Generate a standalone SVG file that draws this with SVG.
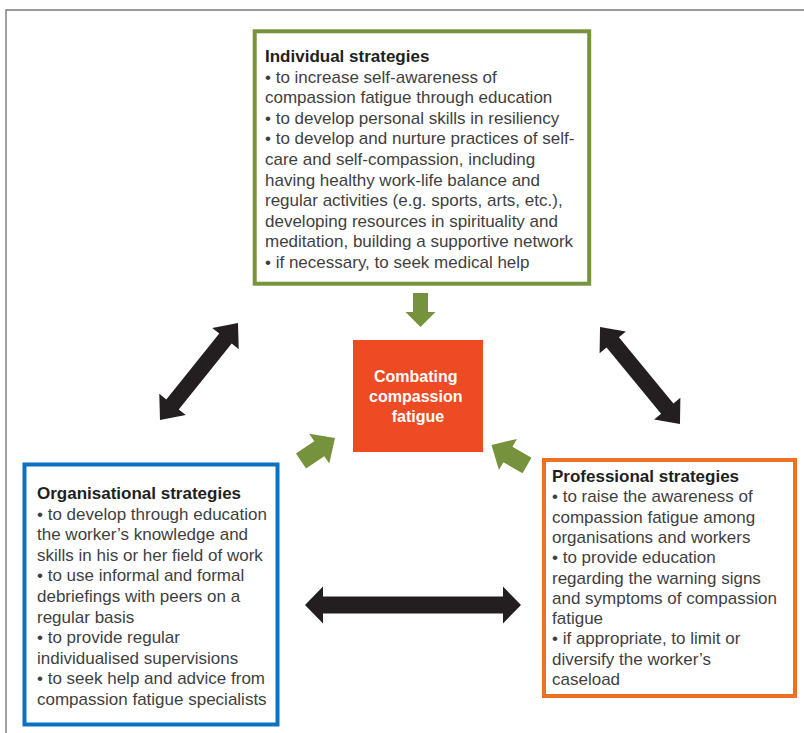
<svg xmlns="http://www.w3.org/2000/svg" width="804" height="733" viewBox="0 0 804 733">
  <style>
    .frame { fill: none; stroke: #7a7a7a; stroke-width: 1.4; }
    .box { fill: #ffffff; stroke-width: 4; }
    .green { stroke: #77933c; }
    .blue { stroke: #0a72c0; }
    .orange { stroke: #ec7123; }
    .core { fill: #ee4a23; }
    .txt { font-family: "Liberation Sans", Arial, sans-serif; font-size: 17px; fill: #3f3f3f; }
    .title { font-weight: bold; fill: #1f1f1f; }
    .core-txt { font-family: "Liberation Sans", Arial, sans-serif; font-size: 16px; font-weight: bold; fill: #ffffff; text-anchor: middle; }
    .dbl { fill: #231f20; }
    .feed { fill: #76923c; }
  </style>
  <defs>
    <!-- single block arrow pointing along +x, tail at the origin -->
    <polygon id="feed-arrow" points="0,-9 22,-9 22,-18 41,0 22,18 22,9 0,9"/>
  </defs>

  <!-- outer frame (top and left edges) -->
  <polyline class="frame" points="6,733 6,10 804,10"/>

  <g id="connectors">
    <!-- two-way links between the strategy boxes -->
    <polygon class="dbl" transform="translate(199 371.5) rotate(-51.2)"
             points="-62.25,0 -42.25,-17 -42.25,-8 42.25,-8 42.25,-17 62.25,0 42.25,17 42.25,8 -42.25,8 -42.25,17"/>
    <polygon class="dbl" transform="translate(640 375.5) rotate(50.5)"
             points="-62.85,0 -42.85,-17 -42.85,-8 42.85,-8 42.85,-17 62.85,0 42.85,17 42.85,8 -42.85,8 -42.85,17"/>
    <polygon class="dbl" transform="translate(413 605)"
             points="-108,0 -90,-18.5 -90,-8.5 90,-8.5 90,-18.5 108,0 90,18.5 90,8.5 -90,8.5 -90,18.5"/>
    <!-- arrows feeding the central box -->
    <polygon class="feed" points="413,293 428,293 428,312 435.5,312 420.5,327 405.5,312 413,312"/>
    <use href="#feed-arrow" class="feed" transform="translate(301 461) rotate(-34)"/>
    <use href="#feed-arrow" class="feed" transform="translate(527 465.5) rotate(-150)"/>
  </g>

  <g id="individual">
    <rect class="box green" x="254.7" y="31.3" width="334.5" height="252.4"/>
    <text class="txt" x="265" y="62">
      <tspan class="title" x="265">Individual strategies</tspan>
      <tspan x="265" dy="20.6">• to increase self-awareness of</tspan>
      <tspan x="265" dy="20.6">compassion fatigue through education</tspan>
      <tspan x="265" dy="20.6">• to develop personal skills in resiliency</tspan>
      <tspan x="265" dy="20.6">• to develop and nurture practices of self-</tspan>
      <tspan x="265" dy="20.6">care and self-compassion, including</tspan>
      <tspan x="265" dy="20.6">having healthy work-life balance and</tspan>
      <tspan x="265" dy="20.6">regular activities (e.g. sports, arts, etc.),</tspan>
      <tspan x="265" dy="20.6">developing resources in spirituality and</tspan>
      <tspan x="265" dy="20.6">meditation, building a supportive network</tspan>
      <tspan x="265" dy="20.6">• if necessary, to seek medical help</tspan>
    </text>
  </g>

  <g id="combating">
    <rect class="core" x="353" y="340" width="130" height="112"/>
    <text class="core-txt" x="418" y="382">
      <tspan x="418">Combating</tspan>
      <tspan x="418" dy="20">compassion</tspan>
      <tspan x="418" dy="20">fatigue</tspan>
    </text>
  </g>

  <g id="organisational">
    <rect class="box blue" x="24.5" y="464.5" width="253" height="260"/>
    <text class="txt" x="37" y="499">
      <tspan class="title" x="37">Organisational strategies</tspan>
      <tspan x="37" dy="20.6">• to develop through education</tspan>
      <tspan x="37" dy="20.6">the worker’s knowledge and</tspan>
      <tspan x="37" dy="20.6">skills in his or her field of work</tspan>
      <tspan x="37" dy="20.6">• to use informal and formal</tspan>
      <tspan x="37" dy="20.6">debriefings with peers on a</tspan>
      <tspan x="37" dy="20.6">regular basis</tspan>
      <tspan x="37" dy="20.6">• to provide regular</tspan>
      <tspan x="37" dy="20.6">individualised supervisions</tspan>
      <tspan x="37" dy="20.6">• to seek help and advice from</tspan>
      <tspan x="37" dy="20.6">compassion fatigue specialists</tspan>
    </text>
  </g>

  <g id="professional">
    <rect class="box orange" x="544" y="460" width="251" height="236"/>
    <text class="txt" x="552" y="482">
      <tspan class="title" x="552">Professional strategies</tspan>
      <tspan x="552" dy="20.3">• to raise the awareness of</tspan>
      <tspan x="552" dy="20.3">compassion fatigue among</tspan>
      <tspan x="552" dy="20.3">organisations and workers</tspan>
      <tspan x="552" dy="20.3">• to provide education</tspan>
      <tspan x="552" dy="20.3">regarding the warning signs</tspan>
      <tspan x="552" dy="20.3">and symptoms of compassion</tspan>
      <tspan x="552" dy="20.3">fatigue</tspan>
      <tspan x="552" dy="20.3">• if appropriate, to limit or</tspan>
      <tspan x="552" dy="20.3">diversify the worker’s</tspan>
      <tspan x="552" dy="20.3">caseload</tspan>
    </text>
  </g>
</svg>
